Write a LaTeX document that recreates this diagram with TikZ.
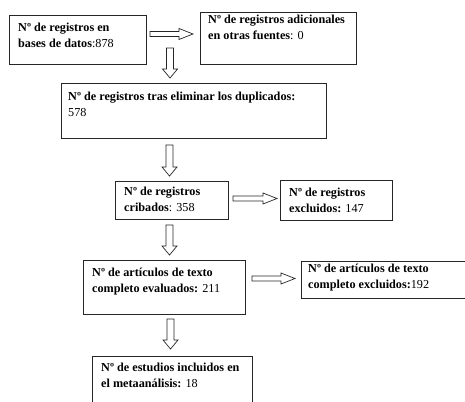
\documentclass[tikz,border=0pt]{standalone}
\usepackage{fontspec}
\setmainfont{Liberation Serif}
\usetikzlibrary{calc}
\tikzset{
  box/.style={draw=black!85, line width=0.9pt, inner sep=0pt, anchor=north west},
  txt/.style={inner sep=0pt, anchor=north west, align=left, font=\fontsize{12.2}{15.5}\selectfont},
  blk/.style={draw=black!85, line width=0.7pt, fill=white, line join=miter}
}
\newcommand\varrowblk[2]{%
  \draw[blk] ($(#1)+(-3.5,0)$) -- ($(#2)+(-3.5,-9)$) -- ($(#2)+(-7.5,-9)$) -- (#2)
    -- ($(#2)+(7.5,-9)$) -- ($(#2)+(3.5,-9)$) -- ($(#1)+(3.5,0)$) -- cycle;}
\newcommand\harrowblk[2]{%
  \draw[blk] ($(#1)+(0,-2.5)$) -- ($(#2)+(-14,-2.5)$) -- ($(#2)+(-14,-5.5)$) -- (#2)
    -- ($(#2)+(-14,5.5)$) -- ($(#2)+(-14,2.5)$) -- ($(#1)+(0,2.5)$) -- cycle;}
\begin{document}
\begin{tikzpicture}[x=1pt, y=-1pt]
\useasboundingbox (0,0) rectangle (465,401);
% boxes
\node[box, minimum width=137pt, minimum height=49pt] (b1) at (9,15) {};
\node[box, minimum width=156pt, minimum height=52pt] (b2) at (200,12) {};
\node[box, minimum width=265pt, minimum height=55pt] (b3) at (61,83) {};
\node[box, minimum width=113pt, minimum height=38pt] (b4) at (115,181) {};
\node[box, minimum width=112pt, minimum height=40pt] (b5) at (280,180) {};
\node[box, minimum width=162pt, minimum height=54pt] (b6) at (83,260) {};
\node[box, minimum width=180pt, minimum height=37pt] (b7) at (301,261) {};
\node[box, minimum width=160pt, minimum height=60pt] (b8) at (92,356) {};
% texts
\node[txt] (t1) at (18,23) {\textbf{Nº de registros en}\\\textbf{bases de datos}:878};
\node[txt] (t2) at (208,15) {\textbf{Nº de registros adicionales}\\\textbf{en otras fuentes}: 0};
\node[txt] (t3) at (68,92) {\textbf{Nº de registros tras eliminar los duplicados:}\\578};
\node[txt] (t4) at (124,187) {\textbf{Nº de registros}\\\textbf{cribados}: 358};
\node[txt] (t5) at (289,188) {\textbf{Nº de registros}\\\textbf{excluidos:} 147};
\node[txt] (t6) at (92,268) {\textbf{Nº de artículos de texto}\\\textbf{completo evaluados:} 211};
\node[txt] (t7) at (308,264) {\textbf{Nº de artículos de texto}\\\textbf{completo excluidos:}192};
\node[txt] (t8) at (101,363) {\textbf{Nº de estudios incluidos en}\\\textbf{el metaanálisis:} 18};
% arrow end points
\coordinate (a1s) at (150,34);   \coordinate (a1e) at (193,34);
\coordinate (a2s) at (170,48);   \coordinate (a2e) at (170,78);
\coordinate (a3s) at (169.5,145); \coordinate (a3e) at (169.5,176);
\coordinate (a4s) at (233,198.5); \coordinate (a4e) at (277,198.5);
\coordinate (a5s) at (169.5,225); \coordinate (a5e) at (169.5,255);
\coordinate (a6s) at (252,278.5); \coordinate (a6e) at (295,278.5);
\coordinate (a7s) at (170.5,319); \coordinate (a7e) at (170.5,349);
\harrowblk{a1s}{a1e}
\varrowblk{a2s}{a2e}
\varrowblk{a3s}{a3e}
\harrowblk{a4s}{a4e}
\varrowblk{a5s}{a5e}
\harrowblk{a6s}{a6e}
\varrowblk{a7s}{a7e}
\end{tikzpicture}
\end{document}
